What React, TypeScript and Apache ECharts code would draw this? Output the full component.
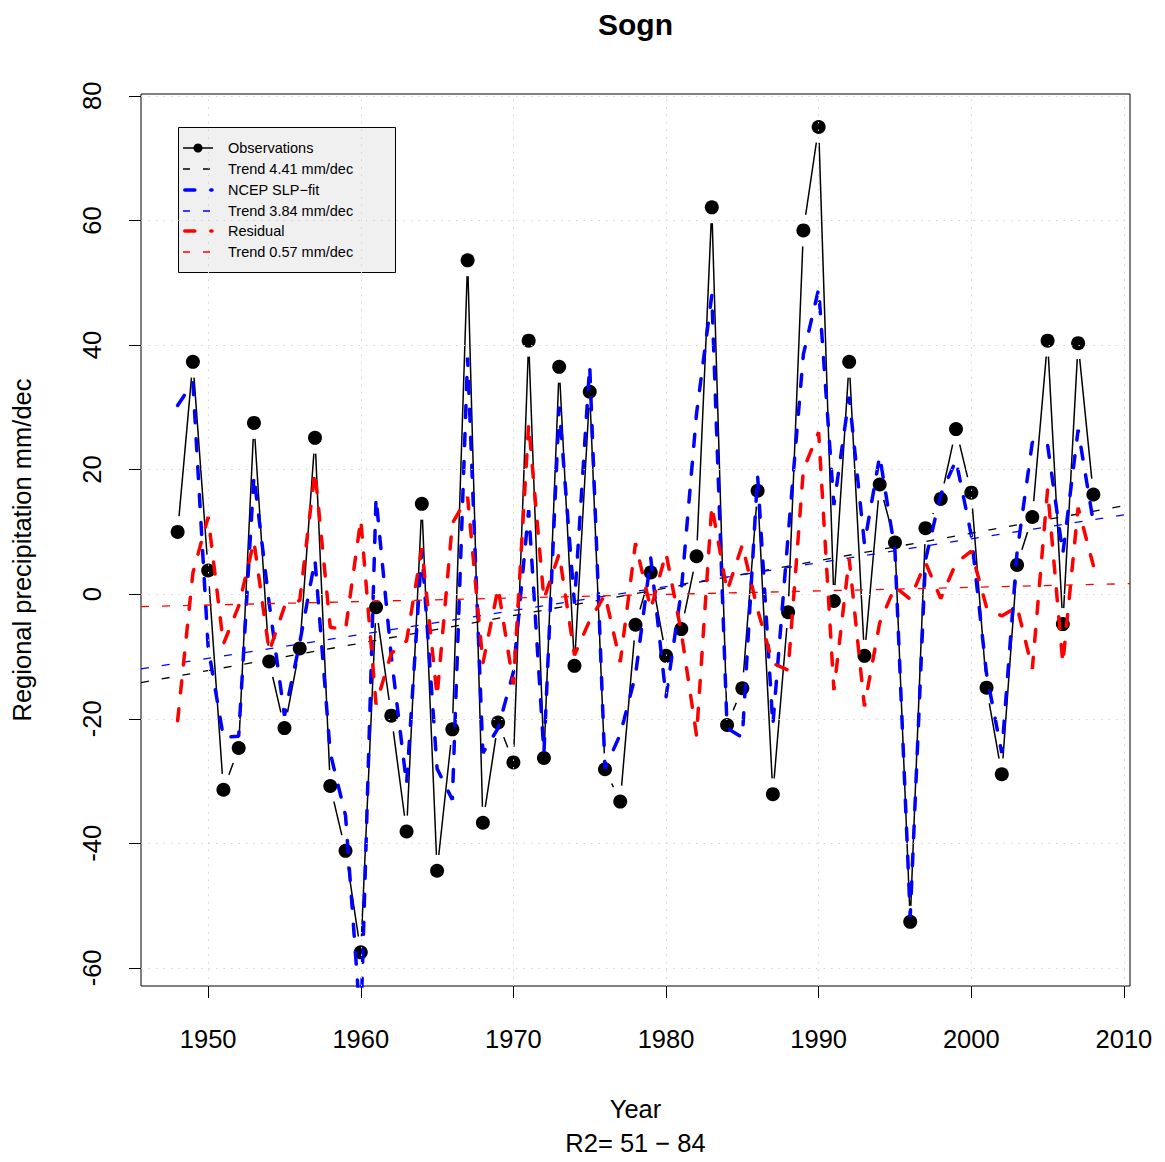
import React, { useEffect, useRef } from "react";
import * as echarts from "echarts";

const YEARS = [
  1948, 1949, 1950, 1951, 1952, 1953, 1954, 1955, 1956, 1957, 1958, 1959, 1960, 1961, 1962, 1963,
  1964, 1965, 1966, 1967, 1968, 1969, 1970, 1971, 1972, 1973, 1974, 1975, 1976, 1977, 1978, 1979,
  1980, 1981, 1982, 1983, 1984, 1985, 1986, 1987, 1988, 1989, 1990, 1991, 1992, 1993, 1994, 1995,
  1996, 1997, 1998, 1999, 2000, 2001, 2002, 2003, 2004, 2005, 2006, 2007, 2008,
];

const OBSERVATIONS = [
  10.0, 37.3, 3.8, -31.4, -24.7, 27.5, -10.8, -21.5, -8.7, 25.1, -30.8, -41.2, -57.5, -2.1, -19.5, -38.1,
  14.5, -44.4, -21.7, 53.6, -36.7, -20.6, -27.0, 40.7, -26.3, 36.5, -11.5, 32.5, -28.1, -33.3, -4.9, 3.5,
  -9.9, -5.6, 6.1, 62.1, -21.0, -15.1, 16.6, -32.1, -2.9, 58.4, 75.0, -1.1, 37.3, -9.9, 17.6, 8.3,
  -52.6, 10.6, 15.3, 26.5, 16.3, -15.0, -28.9, 4.7, 12.4, 40.7, -4.8, 40.3, 16.0,
];

const NCEP_FIT = [
  30.3, 34.0, -8.5, -23.0, -22.8, 19.0, -1.5, -19.5, -7.8, 5.5, -25.5, -35.5, -69.5, 15.5, -10.0, -30.5,
  7.1, -28.0, -33.0, 38.0, -25.5, -21.5, -12.5, 13.5, -25.5, 30.1, -1.5, 36.7, -28.0, -22.5, -13.0, 5.8,
  -16.5, 0.5, 29.0, 48.0, -21.5, -23.0, 19.1, -21.0, 9.4, 38.5, 49.0, 14.3, 31.7, 8.1, 22.2, 7.0,
  -51.8, 5.5, 16.0, 21.5, 9.5, -12.8, -25.5, 6.7, 24.4, 24.0, 6.5, 26.4, 11.5,
];

const RESIDUAL = [
  -20.3, 3.4, 12.4, -8.0, -1.9, 8.5, -9.2, -2.0, -1.0, 19.7, -5.3, -5.7, 12.0, -17.7, -9.5, -7.5,
  7.4, -16.4, 11.4, 15.6, -11.1, 1.0, -14.5, 27.3, -0.8, 6.5, -9.8, -4.2, -0.1, -10.9, 8.2, -2.4,
  6.6, -6.1, -22.7, 14.2, 0.5, 7.9, -2.5, -11.1, -12.2, 20.0, 26.0, -15.4, 5.7, -18.0, -4.6, 1.2,
  -0.8, 5.1, -0.7, 5.0, 6.9, -2.1, -3.5, -2.0, -12.0, 16.8, -11.1, 13.9, 4.6,
];

// trend lines: slope in mm/dec, value at the reference year 1978
const TREND_OBS = { perDecade: 4.41, at1978: 0.09 };
const TREND_FIT = { perDecade: 3.84, at1978: 0.44 };
const TREND_RES = { perDecade: 0.57, at1978: -0.15 };

const X_TICKS = [1950, 1960, 1970, 1980, 1990, 2000, 2010];
const Y_TICKS = [-60, -40, -20, 0, 20, 40, 60, 80];
const X_MIN = 1945.6;
const X_MAX = 2010.4;
const Y_MIN = -62.9;
const Y_MAX = 80.3;

const LEGEND_LABELS = [
  "Observations",
  "Trend 4.41 mm/dec",
  "NCEP SLP\u2212fit",
  "Trend 3.84 mm/dec",
  "Residual",
  "Trend 0.57 mm/dec",
];

const FONT = "'Liberation Sans', Arial, Helvetica, sans-serif";
const BLUE = "#0000FF";
const RED = "#FF0000";
const THICK_DASH = [12, 16];
const THIN_DASH = [8, 13];

function trendLine(t: { perDecade: number; at1978: number }) {
  const f = (x: number) => t.at1978 + (t.perDecade / 10) * (x - 1978);
  return [
    [X_MIN, f(X_MIN)],
    [X_MAX, f(X_MAX)],
  ];
}

function buildLegend() {
  const rowY = [148, 169, 190, 211, 231, 252];
  const els: any[] = [
    {
      type: "rect",
      shape: { x: 178.5, y: 127.5, width: 217, height: 145 },
      style: { fill: "#F0F0F0", stroke: "#000", lineWidth: 1 },
    },
  ];
  const sample = (i: number, color: string, width: number, dash: number[] | null, x1 = 183, x2 = 213) => {
    els.push({
      type: "line",
      shape: { x1, y1: rowY[i], x2, y2: rowY[i] },
      style: { stroke: color, lineWidth: width, lineDash: dash || undefined, lineCap: dash && width > 2 ? "round" : "butt" },
    });
  };
  sample(0, "#000", 1.5, null);
  els.push({ type: "circle", shape: { cx: 198, cy: rowY[0], r: 4.5 }, style: { fill: "#000" } });
  sample(1, "#000", 1.3, [7, 13]);
  sample(2, BLUE, 3.5, [10, 16], 184.8, 212);
  sample(3, BLUE, 1.3, [7, 13]);
  sample(4, RED, 3.5, [10, 16], 184.8, 212);
  sample(5, RED, 1.3, [7, 13]);
  LEGEND_LABELS.forEach((t, i) => {
    els.push({
      type: "text",
      x: 228,
      y: rowY[i],
      style: { text: t, fontSize: 14.5, fontFamily: FONT, fill: "#000", verticalAlign: "middle", align: "left" },
    });
  });
  return els;
}

export default function App() {
  const ref = useRef<HTMLDivElement>(null);
  useEffect(() => {
    if (!ref.current) return;
    const chart = echarts.init(ref.current, undefined, { renderer: "svg" });
    const pairs = (vals: number[]) => YEARS.map((y, i) => [y, vals[i]]);
    const option: any = {
      animation: false,
      backgroundColor: "#fff",
      textStyle: { fontFamily: FONT },
      grid: {
        left: 141,
        top: 94,
        width: 989,
        height: 892,
        show: true,
        borderColor: "#000",
        borderWidth: 1,
        backgroundColor: "transparent",
      },
      xAxis: {
        type: "value",
        min: X_MIN,
        max: X_MAX,
        splitLine: { show: false },
        axisLine: { show: false, onZero: false },
        axisTick: { show: true, customValues: X_TICKS, length: 12, lineStyle: { color: "#000", width: 1 } },
        axisLabel: {
          customValues: X_TICKS,
          fontSize: 25.5,
          color: "#000",
          margin: 40,
          fontFamily: FONT,
          formatter: (v: number) => String(v),
        },
      },
      yAxis: {
        type: "value",
        min: Y_MIN,
        max: Y_MAX,
        splitLine: { show: false },
        axisLine: { show: false, onZero: false },
        axisTick: { show: true, customValues: Y_TICKS, length: 12, lineStyle: { color: "#000", width: 1 } },
        axisLabel: {
          customValues: Y_TICKS,
          fontSize: 25.5,
          color: "#000",
          margin: 36,
          rotate: 90,
          fontFamily: FONT,
          formatter: (v: number) => String(v),
        },
      },
      series: [
        {
          type: "line",
          name: "Observations",
          data: pairs(OBSERVATIONS),
          symbol: "none",
          lineStyle: { color: "#000", width: 1.5 },
          z: 2,
        },
        {
          // white discs that leave the gaps R's type "b" keeps round each point
          type: "scatter",
          name: "gaps",
          data: pairs(OBSERVATIONS),
          symbol: "circle",
          symbolSize: 32,
          itemStyle: { color: "#fff", opacity: 1 },
          silent: true,
          z: 2,
        },
        {
          type: "line",
          name: "grid",
          data: [],
          silent: true,
          z: 2,
          markLine: {
            silent: true,
            symbol: ["none", "none"],
            label: { show: false },
            lineStyle: { color: "#D3D3D3", type: [1.5, 6], width: 1 },
            data: [...X_TICKS.map((x) => ({ xAxis: x })), ...Y_TICKS.map((y) => ({ yAxis: y }))],
          },
        },
        {
          type: "scatter",
          name: "Observations points",
          data: pairs(OBSERVATIONS),
          symbol: "circle",
          symbolSize: 14,
          itemStyle: { color: "#000", opacity: 1 },
          z: 3,
        },
        {
          type: "line",
          name: "Trend obs",
          data: trendLine(TREND_OBS),
          symbol: "none",
          lineStyle: { color: "#000", width: 1.3, type: THIN_DASH },
          z: 3,
        },
        {
          type: "line",
          name: "NCEP SLP-fit",
          data: pairs(NCEP_FIT),
          symbol: "none",
          lineStyle: { color: BLUE, width: 3.5, type: THICK_DASH, cap: "round" },
          z: 4,
        },
        {
          type: "line",
          name: "Trend fit",
          data: trendLine(TREND_FIT),
          symbol: "none",
          lineStyle: { color: BLUE, width: 1.3, type: THIN_DASH },
          z: 4,
        },
        {
          type: "line",
          name: "Residual",
          data: pairs(RESIDUAL),
          symbol: "none",
          lineStyle: { color: RED, width: 3.5, type: THICK_DASH, cap: "round" },
          z: 5,
        },
        {
          type: "line",
          name: "Trend residual",
          data: trendLine(TREND_RES),
          symbol: "none",
          lineStyle: { color: RED, width: 1.3, type: THIN_DASH },
          z: 5,
        },
      ],
      graphic: [
        {
          type: "text",
          x: 635.5,
          y: 24,
          style: { text: "Sogn", fontSize: 30, fontWeight: "bold", fontFamily: FONT, fill: "#000", align: "center", verticalAlign: "middle" },
        },
        {
          type: "text",
          x: 635.5,
          y: 1109,
          style: { text: "Year", fontSize: 25.5, fontFamily: FONT, fill: "#000", align: "center", verticalAlign: "middle" },
        },
        {
          type: "text",
          x: 635.5,
          y: 1143,
          style: { text: "R2= 51 \u2212 84", fontSize: 25.5, fontFamily: FONT, fill: "#000", align: "center", verticalAlign: "middle" },
        },
        {
          type: "text",
          x: 22,
          y: 550,
          rotation: Math.PI / 2,
          style: {
            text: "Regional precipitation mm/dec",
            fontSize: 25.5,
            fontFamily: FONT,
            fill: "#000",
            align: "center",
            verticalAlign: "middle",
          },
        },
        ...buildLegend(),
      ],
    };
    chart.setOption(option);
    return () => chart.dispose();
  }, []);
  return (
    <div
      ref={ref}
      style={{ position: "fixed", left: 0, top: 0, width: 1165, height: 1162, background: "#fff" }}
    />
  );
}
